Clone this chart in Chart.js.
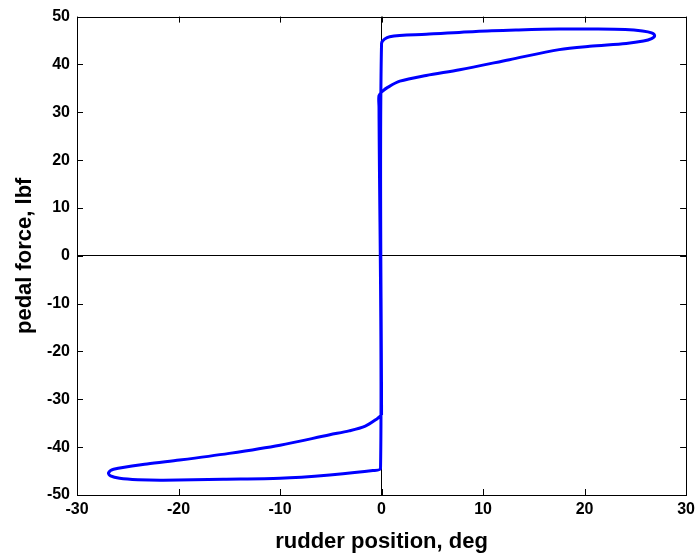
<!DOCTYPE html>
<html>
<head>
<meta charset="utf-8">
<script src="https://cdn.jsdelivr.net/npm/chart.js@4/dist/chart.umd.min.js"></script>
<style>
  body { margin: 0; background: #fff; }
  #wrap { width: 700px; height: 555px; }
</style>
</head>
<body>
<div id="wrap"><canvas id="pedalChart"></canvas></div>
<script>
// hysteresis loop, traced in order
var rudderDeg = [0.0, 0.0, 0.8, 4.4, 9.3, 13.5, 17.5, 21.1, 24.0, 25.7, 26.6, 26.9, 26.6, 25.8, 24.1, 20.5, 17.5, 12.6, 7.7, 4.4, 1.8, 0.6, 0.1, -0.25, -0.25,
                 -0.1, -0.85, -5.1, -10.0, -15.6, -21.5, -24.0, -25.8, -26.7, -26.9, -26.4, -23.1, -19.9, -15.0, -10.0, -5.1, -3.2, -1.6, -0.4, 0.0];
var pedalLbf = [-33.3, 44.4, 45.8, 46.3, 46.9, 47.2, 47.4, 47.4, 47.3, 47.0, 46.6, 46.0, 45.4, 44.9, 44.4, 43.8, 43.1, 41.0, 38.9, 37.7, 36.5, 35.2, 34.4, 33.5, 31.0,
                -44.4, -44.9, -45.8, -46.5, -46.7, -46.9, -46.8, -46.5, -46.0, -45.4, -44.6, -43.5, -42.7, -41.3, -39.6, -37.4, -36.6, -35.6, -34.0, -33.3];
var xTicks = [-30, -20, -10, 0, 10, 20, 30];
var yTicks = [-50, -40, -30, -20, -10, 0, 10, 20, 30, 40, 50];

var points = rudderDeg.map(function (x, i) { return { x: x, y: pedalLbf[i] }; });

var tickFont = { family: "'Liberation Sans', Arial, sans-serif", size: 16, weight: 'bold' };
var titleFont = { family: "'Liberation Sans', Arial, sans-serif", size: 22, weight: 'bold' };

// zero lines only, everything else hidden
function zeroLine(ctx) {
  return ctx.tick && ctx.tick.value === 0 ? '#000' : 'rgba(0,0,0,0)';
}

// matlab style box with inward ticks on all four sides
var boxPlugin = {
  id: 'box',
  afterDraw: function (chart) {
    var ctx = chart.ctx, ca = chart.chartArea;
    var xs = chart.scales.x, ys = chart.scales.y;
    ctx.save();
    ctx.strokeStyle = '#000';
    ctx.lineWidth = 1;
    ctx.beginPath();
    xTicks.forEach(function (v) {
      var p = Math.round(xs.getPixelForValue(v)) + 0.5;
      ctx.moveTo(p, ca.bottom); ctx.lineTo(p, ca.bottom - 6);
      ctx.moveTo(p, ca.top); ctx.lineTo(p, ca.top + 6);
    });
    yTicks.forEach(function (v) {
      var p = Math.round(ys.getPixelForValue(v)) + 0.5;
      ctx.moveTo(ca.left, p); ctx.lineTo(ca.left + 6, p);
      ctx.moveTo(ca.right, p); ctx.lineTo(ca.right - 6, p);
    });
    ctx.stroke();
    ctx.strokeRect(Math.round(ca.left) + 0.5, Math.round(ca.top) + 0.5,
                   Math.round(ca.right - ca.left), Math.round(ca.bottom - ca.top));
    ctx.restore();
  }
};

new Chart(document.getElementById('pedalChart').getContext('2d'), {
  type: 'scatter',
  data: {
    datasets: [{
      data: points,
      showLine: true,
      borderColor: '#0000ff',
      borderWidth: 3,
      pointRadius: 0,
      tension: 0.3,
      fill: false
    }]
  },
  options: {
    responsive: true,
    maintainAspectRatio: false,
    animation: false,
    layout: { padding: { left: 0, right: 13, top: 15, bottom: 0 } },
    plugins: { legend: { display: false }, tooltip: { enabled: false } },
    scales: {
      x: {
        type: 'linear', min: -30, max: 30,
        afterBuildTicks: function (s) { s.ticks = xTicks.map(function (v) { return { value: v }; }); },
        afterFit: function (s) { s.height = 60; },
        grid: { color: zeroLine, drawTicks: false, lineWidth: 1 },
        border: { display: false },
        ticks: { color: '#000', font: tickFont, padding: 5, maxRotation: 0 },
        title: { display: true, text: 'rudder position, deg', color: '#000', font: titleFont, padding: { top: -3, bottom: 0 } }
      },
      y: {
        type: 'linear', min: -50, max: 50,
        afterBuildTicks: function (s) { s.ticks = yTicks.map(function (v) { return { value: v }; }); },
        afterFit: function (s) { s.width = 77; },
        grid: { color: zeroLine, drawTicks: false, lineWidth: 1 },
        border: { display: false },
        ticks: { color: '#000', font: tickFont, padding: 7 },
        title: { display: true, text: 'pedal force, lbf', color: '#000', font: titleFont, padding: { top: 12, bottom: 0 } }
      }
    }
  },
  plugins: [boxPlugin]
});
</script>
</body>
</html>
